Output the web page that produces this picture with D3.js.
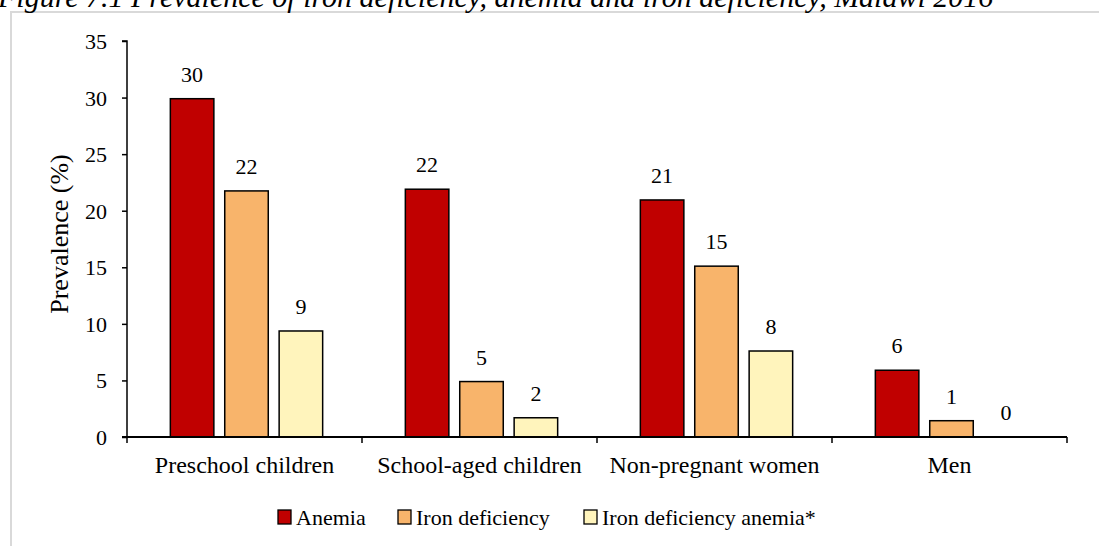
<!DOCTYPE html>
<html>
<head>
<meta charset="utf-8">
<script src="https://cdn.jsdelivr.net/npm/d3@7"></script>
<style>
  body { margin: 0; background: #fff; }
  text { font-family: "Liberation Serif", "Times New Roman", serif; fill: #000; }
</style>
</head>
<body>
<svg id="chart" width="1099" height="546"></svg>
<script>
// data
const categories = ["Preschool children", "School-aged children", "Non-pregnant women", "Men"];
const seriesNames = ["Anemia", "Iron deficiency", "Iron deficiency anemia*"];
const anemia = [29.9, 21.9, 20.95, 5.9];
const ironDeficiency = [21.75, 4.9, 15.1, 1.44];
const ironDeficiencyAnemia = [9.37, 1.7, 7.6, 0];
const yTicks = [0, 5, 10, 15, 20, 25, 30, 35];
const colours = ["#c00000", "#f8b46b", "#fff4bc"];

const largeur = 1099, hauteur = 546;
const m = { left: 127, right: 32, top: 41, bottom: 109 };

const svg = d3.select("#chart");

// page frame and cut-off title
svg.append("path")
    .attr("d", `M11,546 V12 H${largeur}`)
    .attr("fill", "none").attr("stroke", "#d9d9d9").attr("stroke-width", 2);

svg.append("text")
    .attr("x", -2).attr("y", 7)
    .style("font-style", "italic").style("font-size", "30px")
    .text("Figure 7.1 Prevalence of iron deficiency, anemia and iron deficiency, Malawi 2016");

const series = [anemia, ironDeficiency, ironDeficiencyAnemia];
const rows = categories.map((c, i) => ({ cat: c, vals: series.map(s => s[i]) }));

const x0 = d3.scaleBand().domain(categories).range([m.left, largeur - m.right]).paddingInner(0).paddingOuter(0);
const x1 = d3.scaleBand().domain(seriesNames).range([0, x0.bandwidth()]).paddingInner(0.2).paddingOuter(0.76);
const y = d3.scaleLinear().domain([0, 35]).range([hauteur - m.bottom, m.top]);

// bars
const groups = svg.append("g").selectAll("g").data(rows).enter().append("g")
    .attr("transform", d => `translate(${x0(d.cat) + 2},0)`);

groups.selectAll("rect")
    .data(d => d.vals.map((v, i) => ({ v, i })).filter(d => d.v > 0))
    .enter().append("rect")
    .attr("x", d => x1(seriesNames[d.i]))
    .attr("y", d => y(d.v))
    .attr("width", x1.bandwidth())
    .attr("height", d => y(0) - y(d.v))
    .attr("fill", d => colours[d.i])
    .attr("stroke", "#000").attr("stroke-width", 1.5);

groups.selectAll("text")
    .data(d => d.vals.map((v, i) => ({ v, i })))
    .enter().append("text")
    .attr("x", d => x1(seriesNames[d.i]) + x1.bandwidth() / 2)
    .attr("y", d => y(d.v) - 17)
    .attr("text-anchor", "middle")
    .style("font-size", "22px")
    .text(d => d3.format(".0f")(d.v));

// y axis
const yAxis = svg.append("g")
    .attr("transform", `translate(${m.left},0)`)
    .call(d3.axisLeft(y).tickValues(yTicks).tickSize(5).tickPadding(15));
yAxis.selectAll("text").style("font-size", "22px").style("font-family", "Liberation Serif").attr("dy", "0.34em");
yAxis.selectAll("line, path").attr("stroke", "#000").attr("stroke-width", 1.5);
yAxis.select(".domain").attr("d", `M-5,${y(35)}H0V${y(0)}`);

// x axis with ticks between categories
const xAxis = svg.append("g").attr("transform", `translate(0,${y(0)})`);
xAxis.append("line")
    .attr("x1", m.left - 5).attr("x2", largeur - m.right)
    .attr("stroke", "#000").attr("stroke-width", 2);
xAxis.selectAll(".sep")
    .data(categories.map(c => x0(c)).concat([x0(categories[3]) + x0.bandwidth()]))
    .enter().append("line")
    .attr("x1", d => d).attr("x2", d => d).attr("y1", 0).attr("y2", 6)
    .attr("stroke", "#000").attr("stroke-width", 1.5);
xAxis.selectAll(".lbl").data(categories).enter().append("text")
    .attr("x", d => x0(d) + x0.bandwidth() / 2)
    .attr("y", 36)
    .attr("text-anchor", "middle")
    .style("font-size", "24px")
    .text(d => d);

// y axis title
svg.append("text")
    .attr("transform", `translate(68,${(y(0) + y(35)) / 2 - 5}) rotate(-90)`)
    .attr("text-anchor", "middle")
    .style("font-size", "26px")
    .text("Prevalence (%)");

// legend
const legendX = [278, 398, 584];
const legend = svg.append("g").selectAll("g").data(seriesNames).enter().append("g")
    .attr("transform", (d, i) => `translate(${legendX[i]},510)`);
legend.append("rect")
    .attr("width", 13).attr("height", 14)
    .attr("fill", (d, i) => colours[i])
    .attr("stroke", "#000").attr("stroke-width", 1.3);
legend.append("text")
    .attr("x", 18).attr("y", 15)
    .style("font-size", "22px")
    .text(d => d);
</script>
</body>
</html>
